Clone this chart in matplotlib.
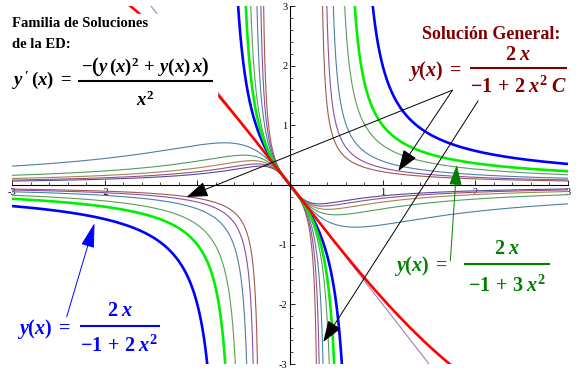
import numpy as np
import matplotlib
matplotlib.use("Agg")
from matplotlib import pyplot as plt
from matplotlib.patches import Rectangle
from matplotlib.ticker import MultipleLocator

plt.rcParams['mathtext.fontset'] = 'custom'
plt.rcParams['mathtext.rm'] = 'Liberation Serif:bold'
plt.rcParams['mathtext.it'] = 'Liberation Serif:italic:bold'
plt.rcParams['mathtext.bf'] = 'Liberation Serif:bold'
plt.rcParams['axes.unicode_minus'] = False

# General solution y = 2x / (-1 + 2 C x^2), one curve per constant C
c_negative = [-5, -4, -3, -2, -1]
colors_negative = ['#4d4d9e', '#9e4d80', '#9e874d', '#4d9e61', '#4d80a6']
c_positive = [5, 4, 3, 2]
colors_positive = ['#9e5a4d', '#8c4da6', '#4d80a6', '#5a9e5a']
c_zero = 0
color_zero = '#a87ab8'
# highlighted members
c_blue = 1
c_green = 1.5
c_red = -0.025

ticks = [-3, -2, -1, 1, 2, 3]

x = np.linspace(-3, 3, 6001)


def family(c):
    y = 2 * x / (-1 + 2 * c * x ** 2)
    y[np.abs(y) > 4] = np.nan
    return y


fig = plt.figure(figsize=(5.82, 3.72), dpi=100)
ax = fig.add_axes([12 / 582, 8 / 372, 556 / 582, 358 / 372])
ax.set_xlim(-3, 3)
ax.set_ylim(-3, 3)

for c, col in zip(c_negative, colors_negative):
    ax.plot(x, family(c), color=col, lw=0.8)
ax.plot(x, family(c_zero), color=color_zero, lw=0.8)
for c, col in zip(c_positive, colors_positive):
    ax.plot(x, family(c), color=col, lw=0.8)
ax.plot(x, family(c_blue), color='#0000ff', lw=1.9)
ax.plot(x, family(c_green), color='#00f000', lw=1.9)
ax.plot(x, family(c_red), color='#ff0000', lw=1.9)

# axes through the origin, Mathematica style
for side in ['top', 'right']:
    ax.spines[side].set_visible(False)
ax.spines['left'].set_position('zero')
ax.spines['bottom'].set_position('zero')
ax.spines['left'].set_linewidth(0.8)
ax.spines['bottom'].set_linewidth(0.8)
ax.set_xticks(ticks)
ax.set_yticks(ticks)
ax.xaxis.set_minor_locator(MultipleLocator(0.2))
ax.yaxis.set_minor_locator(MultipleLocator(0.2))
ax.tick_params(which='major', direction='in', length=3.4, width=0.6,
               labelsize=7.5, pad=2)
ax.tick_params(which='minor', direction='in', length=2.2, width=0.5)
for lab in ax.get_xticklabels() + ax.get_yticklabels():
    lab.set_fontfamily('Liberation Serif')
ax.patch.set_alpha(0)

# white boxes behind the ODE label
ax.add_patch(Rectangle((-3.05, 2.23), 2.23, 0.64, color='white', zorder=3))
ax.add_patch(Rectangle((-3.05, 1.27), 2.26, 0.96, color='white', zorder=3))

serif = 'Liberation Serif'
ax.text(-3.0, 2.647, 'Familia de Soluciones', fontfamily=serif,
        fontweight='bold', fontsize=10.5, zorder=4)
ax.text(-3.0, 2.295, 'de la ED:', fontfamily=serif,
        fontweight='bold', fontsize=10.5, zorder=4)


def fraction(lhs, num, den, x_left, bar, y_bar, y_lhs, y_num, y_den,
             color, size):
    ax.text(x_left, y_lhs, lhs, color=color, fontsize=size, zorder=4)
    xm = (bar[0] + bar[1]) / 2
    ax.text(xm, y_num, num, color=color, fontsize=size, ha='center', zorder=4)
    ax.text(xm, y_den, den, color=color, fontsize=size, ha='center', zorder=4)
    ax.plot(bar, [y_bar, y_bar], color=color, lw=1.5, zorder=4,
            solid_capstyle='butt', clip_on=False)


fraction(r"$y\,'\,(x)\;=$", r"$-\left(y\,(x)^2\,+\,y(x)\,x\right)$", r"$x^2$",
         -3.0, (-2.29, -0.835), 1.742, 1.675, 1.89, 1.323, 'black', 13.5)

ax.text(1.42, 2.446, 'Solución General:', fontfamily=serif, fontweight='bold',
        fontsize=13, color='#800000')
fraction(r"$y(x)\;=$", r"$2\;x$", r"$-1\,+\,2\;x^2\;C$",
         1.269, (1.947, 2.984), 1.955, 1.826, 2.10, 1.541, '#800000', 14.5)
fraction(r"$y(x)\;=$", r"$2\;x$", r"$-1\,+\,3\;x^2$",
         1.118, (1.873, 2.811), -1.323, -1.44, -1.16, -1.79, '#008000', 14.5)
fraction(r"$y(x)\;=$", r"$2\;x$", r"$-1\,+\,2\;x^2$",
         -2.95, (-2.27, -1.407), -2.362, -2.50, -2.20, -2.80, '#0000ff', 14.5)

# arrows from the labels to the curves
black_arrow = dict(arrowstyle='-|>,head_length=0.95,head_width=0.34',
                   color='black', lw=0.7, shrinkA=0, shrinkB=0,
                   mutation_scale=14)
ax.annotate('', xy=(-1.115, -0.2), xytext=(1.754, 1.59), arrowprops=black_arrow, zorder=5)
ax.annotate('', xy=(1.17, 0.235), xytext=(1.754, 1.59), arrowprops=black_arrow, zorder=5)
ax.annotate('', xy=(0.36, -2.63), xytext=(2.03, 1.41), arrowprops=black_arrow, zorder=5)
ax.annotate('', xy=(1.80, 0.335), xytext=(1.73, -1.27),
            arrowprops=dict(arrowstyle='-|>,head_length=0.9,head_width=0.28',
                            color='#008000', lw=0.7, shrinkA=0, shrinkB=0,
                            mutation_scale=14), zorder=5)
ax.annotate('', xy=(-2.11, -0.64), xytext=(-2.41, -2.21),
            arrowprops=dict(arrowstyle='-|>,head_length=1.1,head_width=0.3',
                            color='#0000ff', lw=0.7, shrinkA=0, shrinkB=0,
                            mutation_scale=14), zorder=5)

fig.savefig('out.png', dpi=100)
